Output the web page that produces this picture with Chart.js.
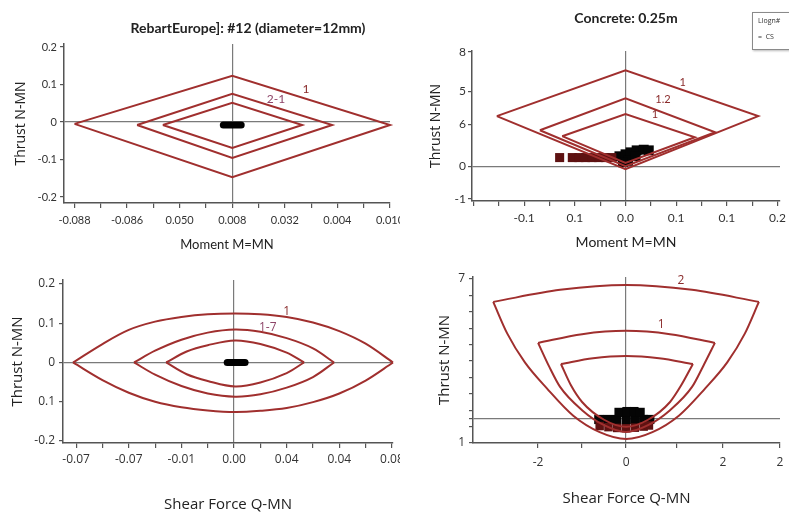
<!DOCTYPE html>
<html><head><meta charset="utf-8">
<script src="https://cdn.jsdelivr.net/npm/chart.js@4.4.0/dist/chart.umd.min.js"></script>
<style>
html,body{margin:0;padding:0;background:#fff;overflow:hidden;width:789px;height:516px;position:relative;}
canvas{position:absolute;}
.ptitle{position:absolute;font-family:Lato,sans-serif;font-weight:bold;font-size:14px;color:#222;white-space:nowrap;transform:translate(-50%,-50%);}
#legend{position:absolute;left:752px;top:12px;width:60px;height:36px;border:1px solid #8a8a8a;box-shadow:1px 1px 2px #bbb;font-family:"Open Sans",sans-serif;font-size:7px;color:#333;background:#fff;}
#legend div{position:absolute;left:5px;white-space:nowrap;}
</style></head><body>
<canvas id="cTL" style="left:0;top:0"></canvas>
<canvas id="cTR" style="left:400px;top:0"></canvas>
<canvas id="cBL" style="left:0;top:260px"></canvas>
<canvas id="cBR" style="left:400px;top:260px"></canvas>
<div class="ptitle" style="left:248px;top:27px">RebartEurope]: #12 (diameter=12mm)</div>
<div class="ptitle" style="left:626px;top:17px">Concrete: 0.25m</div>
<div id="legend"><div style="top:3px">Llogn#</div><div style="top:19px">=&nbsp; CS</div></div>
<script>
// ---------- Top-left: Moment vs Thrust (rebar) ----------
const tlXTicks  = [0,0.5,1,1.5,2,2.5,3,3.5,4,4.5,5,5.5,6];
const tlXLabels = ['-0.088','','-0.086','','0.050','','0.008','','0.032','','0.004','','0.010'];
const tlYTicks  = [0.2,0.1,0,-0.1,-0.2];
const tlYLabels = ['0.2','0.1','0','-0.1','-0.2'];
const tlOuter  = [[0,-0.005],[3,0.123],[6,-0.008],[3,-0.147],[0,-0.005]];
const tlMiddle = [[1.19,-0.008],[3,0.075],[4.9,-0.008],[3,-0.096],[1.19,-0.008]];
const tlInner  = [[1.68,-0.008],[3,0.051],[4.33,-0.008],[3,-0.069],[1.68,-0.008]];
const tlLoad   = [[2.83,-0.008],[3.17,-0.008]];
const tlNotes  = [['1',4.4,0.088,'#8a2b2b'],['2-1',3.83,0.061,'#8d4468']];

// ---------- Top-right: Moment vs Thrust (concrete) ----------
const trXTicks  = [-3,-2.5,-2,-1.5,-1,-0.5,0,0.5,1,1.5,2,2.5,3];
const trXLabels = ['','','-0.1','','0.1','','0.0','','0.1','','0.1','','0.2'];
const trYTicks  = [-1,0,1.27,2.27,3.48];
const trYLabels = ['-1','0','6','5','8'];
const trOuter  = [[-2.54,1.52],[0,2.91],[2.62,1.52],[0,-0.09],[-2.54,1.52]];
const trMiddle = [[-1.69,1.09],[0,2.06],[1.77,1.03],[0,0.0],[-1.69,1.09]];
const trInner  = [[-1.25,0.91],[0,1.58],[1.37,0.88],[0,0.1],[-1.25,0.91]];
const trLoadRed   = [[-1.3,0.26],[-1.05,0.26],[-0.92,0.26],[-0.79,0.26],[-0.66,0.26],[-0.53,0.26],[-0.4,0.26],[-0.27,0.26]];
const trLoadBlack = [[-0.12,0.3],[0.0,0.36],[0.1,0.42],[0.22,0.48],[0.36,0.5],[0.46,0.48],[0.05,0.16],[0.2,0.3],[-0.05,0.12]];
const trNotes  = [['1',1.13,2.55,'#8a2b2b'],['1.2',0.74,2.03,'#8a2b2b'],['1',0.58,1.58,'#8a2b2b']];

// ---------- Bottom-left: Shear vs Thrust (rebar) ----------
const blXTicks  = [0,0.5,1,1.5,2,2.5,3,3.5,4,4.5,5,5.5,6];
const blXLabels = ['-0.07','','-0.07','','-0.01','','0.00','','0.04','','0.04','','0.08'];
const blYTicks  = [0.2,0.1,0,-0.1,-0.2];
const blYLabels = ['0.2','0.1','0','0.1','-0.2'];
const blOuterTop = [[-0.06,0],[0.5,0.047],[1,0.083],[1.5,0.104],[2,0.116],[2.5,0.123],[3.02,0.125],[3.5,0.123],[4,0.116],[4.5,0.102],[5,0.08],[5.5,0.048],[6.02,0]];
const blOuterBot = [[-0.06,0],[0.5,-0.045],[1,-0.077],[1.5,-0.1],[2,-0.114],[2.5,-0.122],[3.02,-0.126],[3.5,-0.123],[4,-0.116],[4.5,-0.101],[5,-0.079],[5.5,-0.046],[6.02,0]];
const blMidTop   = [[1.1,0],[1.5,0.03],[2,0.058],[2.5,0.076],[3.02,0.084],[3.5,0.078],[4,0.062],[4.5,0.036],[4.9,0]];
const blMidBot   = [[1.1,0],[1.5,-0.031],[2,-0.06],[2.5,-0.079],[3.02,-0.087],[3.5,-0.081],[4,-0.064],[4.5,-0.037],[4.9,0]];
const blInTop    = [[1.71,0],[2.1,0.028],[2.5,0.044],[3.02,0.056],[3.5,0.047],[4,0.025],[4.33,0]];
const blInBot    = [[1.71,0],[2.1,-0.03],[2.5,-0.047],[3.02,-0.061],[3.5,-0.051],[4,-0.027],[4.33,0]];
const blLoad     = [[2.87,0],[3.21,0]];
const blNotes    = [['1',4.0,0.129,'#8a2b2b'],['1-7',3.64,0.09,'#8d4468']];

// ---------- Bottom-right: Shear vs Thrust (concrete) ----------
const brXTicks  = [-2,-1,0,1.16,2.2,3.5];
const brXLabels = ['-2','','0','','2','2'];
const brYTicks  = [1,1.6,1.88,2.2,2.8,3.4,4,4.6,5.2,5.8,6.4,7];
const brYLabels = ['1','','','','','','','','','','','7'];
const brOuterTop = [[-3.02,6.16],[-1.5,6.6],[0,6.78],[1.5,6.6],[3.02,6.16]];
const brOuterU   = [[-3.02,6.16],[-2.7,5.0],[-2.3,3.95],[-1.8,3.0],[-1.2,2.0],[-0.6,1.4],[0,1.15],[0.6,1.4],[1.2,2.0],[1.8,3.0],[2.3,3.95],[2.7,5.0],[3.02,6.16]];
const brMidTop   = [[-2,4.66],[-1,4.98],[0,5.1],[1,4.98],[2.02,4.66]];
const brMidU     = [[-2,4.66],[-1.75,3.8],[-1.5,3.05],[-1,2.2],[-0.5,1.65],[0,1.4],[0.5,1.65],[1,2.2],[1.5,3.05],[1.75,3.8],[2.02,4.66]];
const brInTop    = [[-1.48,3.89],[-0.75,4.1],[0,4.18],[0.75,4.1],[1.52,3.89]];
const brInU      = [[-1.48,3.89],[-1.25,3.1],[-1,2.5],[-0.5,1.85],[0,1.59],[0.5,1.85],[1,2.5],[1.25,3.1],[1.52,3.89]];
const brLoadRed   = [[-0.6,1.62],[-0.4,1.58],[-0.2,1.55],[0,1.54],[0.2,1.56],[0.4,1.6],[0.52,1.64]];
const brLoadBlack = [[-0.62,1.86],[-0.42,1.86],[-0.22,1.86],[0,1.86],[0.2,1.86],[0.4,1.86],[0.54,1.86],[-0.16,2.12],[0.02,2.15],[0.18,2.15],[0.32,2.12]];
const brNotes    = [['2',1.25,6.93,'#8a2b2b'],['1',0.8,5.32,'#8a2b2b']];

const RED = '#a02f2e';
const pts = a => a.map(p => ({x:p[0], y:p[1]}));
const lineDs = (a, mode) => ({data:pts(a), showLine:true, pointRadius:0, borderColor:RED, borderWidth:2,
  tension: mode ? 0.35 : 0, cubicInterpolationMode: mode === 'mono' ? 'monotone' : 'default', fill:false, clip:false});
const barDs = a => ({data:pts(a), showLine:true, pointRadius:0, borderColor:'#000', borderWidth:7, borderCapStyle:'round', clip:false});
const blobDs = (a, col, r) => ({data:pts(a), showLine:false, pointStyle:'rect', pointRadius:r, backgroundColor:col, borderColor:col, borderWidth:0, clip:false});

const annoPlugin = {
  id:'anno',
  afterDatasetsDraw(chart, args, opts){
    const {ctx, scales:{x, y}} = chart;
    (opts.items||[]).forEach(n => {
      ctx.save();
      ctx.font = opts.font; ctx.fillStyle = n[3]; ctx.textAlign = 'center'; ctx.textBaseline = 'middle';
      ctx.fillText(n[0], x.getPixelForValue(n[1]), y.getPixelForValue(n[2]));
      ctx.restore();
    });
  }
};

function labelFor(ticks, labels){
  return v => { const i = ticks.findIndex(t => Math.abs(t - v) < 1e-9); return i >= 0 ? labels[i] : ''; };
}

function makePanel(id, c){
  const cv = document.getElementById(id);
  cv.width = c.W; cv.height = c.H;
  const gridCol = lines => (ctx => (ctx.tick && lines.some(l => Math.abs(l - ctx.tick.value) < 1e-9)) ? '#7a7a7a' : 'rgba(0,0,0,0)');
  return new Chart(cv, {
    type:'scatter',
    data:{datasets:c.datasets},
    options:{
      responsive:false, animation:false, events:[],
      layout:{padding:{left:0, top:c.area.top, right:c.W - c.area.right, bottom:0}},
      plugins:{legend:{display:false}, tooltip:{enabled:false}, anno:{items:c.notes, font:c.noteFont}},
      scales:{
        x:{type:'linear', min:c.x.min, max:c.x.max,
          afterBuildTicks:s => { s.ticks = c.x.ticks.map(v => ({value:v})); },
          afterFit:s => { s.height = c.H - c.area.bottom; s.paddingLeft = 0; s.paddingRight = 0; },
          ticks:{autoSkip:false, maxRotation:0, minRotation:0, padding:c.x.pad, color:'#333', font:c.tickFont, callback:labelFor(c.x.ticks, c.x.labels)},
          grid:{color:gridCol(c.x.lines), lineWidth:1.2, tickColor:'#555', tickLength:5, drawTicks:true},
          border:{color:'#555', width:1.5},
          title:{display:true, text:c.x.title, color:'#222', font:c.x.titleFont, padding:{top:0, bottom:c.x.titlePad}}
        },
        y:{type:'linear', min:c.y.min, max:c.y.max,
          afterBuildTicks:s => { s.ticks = c.y.ticks.map(v => ({value:v})); },
          afterFit:s => { s.width = c.area.left; s.paddingTop = 0; s.paddingBottom = 0; },
          ticks:{autoSkip:false, padding:c.y.pad, color:'#333', font:c.tickFont, callback:labelFor(c.y.ticks, c.y.labels)},
          grid:{color:gridCol(c.y.lines), lineWidth:1.2, tickColor:'#555', tickLength:4, drawTicks:true},
          border:{color:'#555', width:1.5},
          title:{display:true, text:'Thrust N-MN', color:'#222', font:c.y.titleFont, padding:{top:c.y.titlePad, bottom:0}}
        }
      }
    },
    plugins:[annoPlugin]
  });
}

makePanel('cTL', {
  W:400, H:260, area:{left:64, right:390, top:44, bottom:203},
  x:{min:-0.2, max:6.0, ticks:tlXTicks, labels:tlXLabels, lines:[3], pad:6, title:'Moment M=MN', titleFont:{family:'Lato', size:13}, titlePad:7},
  y:{min:-0.216, max:0.208, ticks:tlYTicks, labels:tlYLabels, lines:[0], pad:3, titleFont:{family:'Open Sans', size:14}, titlePad:13},
  tickFont:{family:'Lato', size:11},
  notes:tlNotes, noteFont:'12px Lato',
  datasets:[lineDs(tlOuter), lineDs(tlMiddle), lineDs(tlInner), barDs(tlLoad)]
});

makePanel('cTR', {
  W:389, H:260, area:{left:72, right:380, top:51, bottom:201},
  x:{min:-3.03, max:3.05, ticks:trXTicks, labels:trXLabels, lines:[0], pad:5, title:'Moment M=MN', titleFont:{family:'Lato', size:14}, titlePad:9},
  y:{min:-1.06, max:3.5, ticks:trYTicks, labels:trYLabels, lines:[0], pad:2, titleFont:{family:'Open Sans', size:14}, titlePad:28},
  tickFont:{family:'Lato', size:12},
  notes:trNotes, noteFont:'11px Lato',
  datasets:[lineDs(trOuter), lineDs(trMiddle), lineDs(trInner), blobDs(trLoadRed,'#5e1212',6.4), blobDs(trLoadBlack,'#050505',7)]
});

makePanel('cBL', {
  W:400, H:256, area:{left:63, right:393, top:20, bottom:183},
  x:{min:-0.25, max:6.02, ticks:blXTicks, labels:blXLabels, lines:[3], pad:4, title:'Shear Force Q-MN', titleFont:{family:'Open Sans', size:15}, titlePad:2},
  y:{min:-0.205, max:0.21, ticks:blYTicks, labels:blYLabels, lines:[0], pad:4, titleFont:{family:'Open Sans', size:15}, titlePad:9},
  tickFont:{family:'Open Sans', size:12},
  notes:blNotes, noteFont:'12px "Open Sans"',
  datasets:[lineDs(blOuterTop,'card'), lineDs(blOuterBot,'card'), lineDs(blMidTop,'card'), lineDs(blMidBot,'card'), lineDs(blInTop,'card'), lineDs(blInBot,'card'), barDs(blLoad)]
});

makePanel('cBR', {
  W:389, H:256, area:{left:73, right:380, top:17, bottom:183},
  x:{min:-3.48, max:3.5, ticks:brXTicks, labels:brXLabels, lines:[0], pad:7, title:'Shear Force Q-MN', titleFont:{family:'Open Sans', size:15}, titlePad:8},
  y:{min:1, max:7.07, ticks:brYTicks, labels:brYLabels, lines:[1.88], pad:4, titleFont:{family:'Open Sans', size:15}, titlePad:36},
  tickFont:{family:'Open Sans', size:12},
  notes:brNotes, noteFont:'12px "Open Sans"',
  datasets:[lineDs(brOuterTop,'mono'), lineDs(brOuterU,'mono'), lineDs(brMidTop,'mono'), lineDs(brMidU,'mono'), lineDs(brInTop,'mono'), lineDs(brInU,'mono'),
            blobDs(brLoadRed,'#5e1212',6), blobDs(brLoadBlack,'#050505',6.5)]
});
</script>
</body></html>
